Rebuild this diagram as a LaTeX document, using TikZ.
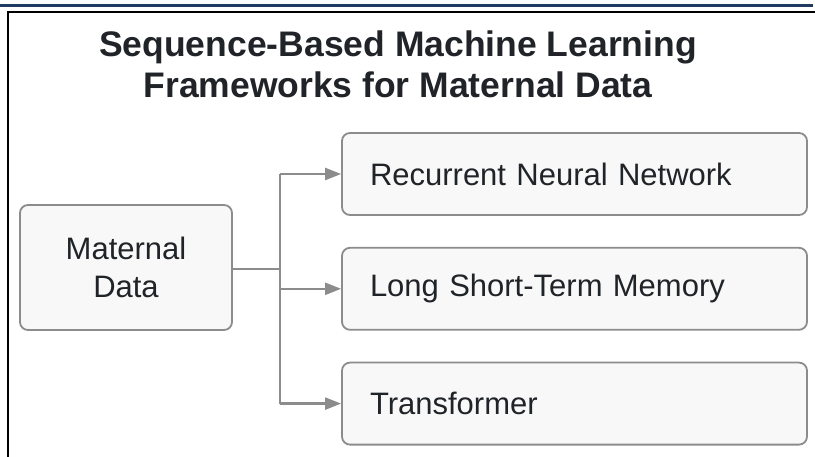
\documentclass[tikz,border=0pt]{standalone}
\usepackage{fontspec}
\setmainfont{Liberation Sans}
\usepackage{tikz}
\usetikzlibrary{arrows.meta, positioning}

\definecolor{framenavy}{HTML}{1F3A5F}
\definecolor{boxline}{HTML}{8C8C8C}
\definecolor{boxfill}{HTML}{F8F8F8}
\definecolor{inktext}{HTML}{202327}

\begin{document}
\begin{tikzpicture}[
    x=1pt, y=-1pt,
    node distance=31pt,
    every node/.style={font=\fontsize{31}{38}\selectfont, text=inktext},
    box/.style={draw=boxline, fill=boxfill, rectangle, rounded corners=8pt, line width=1.8pt, minimum height=82pt},
    method/.style={box, minimum width=465pt, text width=409pt, align=left, inner xsep=28pt},
    link/.style={line width=2.2pt, draw=boxline},
    arrow/.style={link, -{Triangle[length=16pt, width=12pt]}}
]
\useasboundingbox (0,0) rectangle (815,457);
% frame lines
\fill[framenavy] (0,4) rectangle (813,7);
\draw[line width=2pt] (8,470) -- (8,12) -- (815,12);

\node (title) [align=center, font=\bfseries\fontsize{35.5}{41}\selectfont] at (398,64) {Sequence-Based Machine Learning\\Frameworks for Maternal Data};

\node (data) [box, minimum width=212pt, minimum height=125pt, align=center] at (126,267.5) {Maternal\\Data};
\node (rnn) [method] at (574.5,174) {Recurrent Neural Network};
\node (lstm) [method, below=of rnn] {Long Short-Term Memory};
\node (trans) [method, below=of lstm] {Transformer};

\coordinate (split) at (280,269);
\draw [link] (data.east |- split) -- (split);
\draw [link] (split |- rnn.west) -- (split |- trans.west);
\draw [arrow] (split |- rnn.west) -- (rnn.west);
\draw [arrow] (split |- lstm.west) -- (lstm.west);
\draw [arrow] (split |- trans.west) -- (trans.west);

\end{tikzpicture}
\end{document}
